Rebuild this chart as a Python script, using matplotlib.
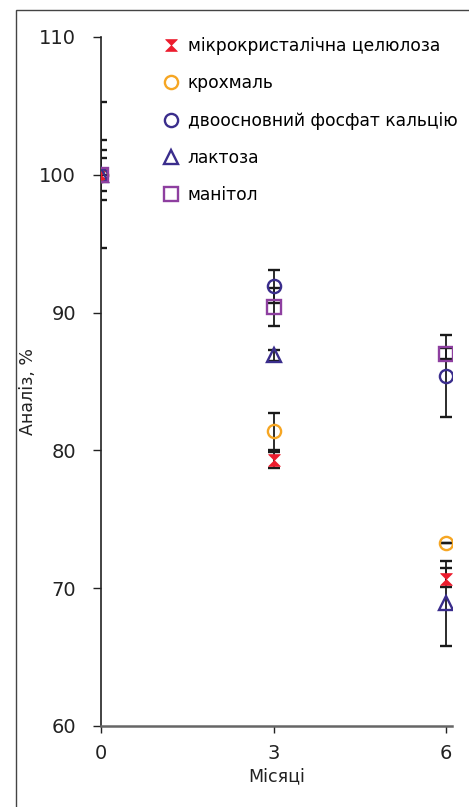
import numpy as np
import matplotlib
matplotlib.use('Agg')
import matplotlib.pyplot as plt
from matplotlib.patches import Rectangle
from matplotlib.path import Path

plt.rcParams['font.family'] = ['DejaVu Sans']

months = [0, 3, 6]
xTickLabels = ['0', '3', '6']
yTicks = [60, 70, 80, 90, 100, 110]

names = ['мікрокристалічна целюлоза', 'крохмаль', 'двоосновний фосфат кальцію',
         'лактоза', 'манітол']

mcc = [100.0, 79.3, 70.7]
mccLo = [1.2, 0.55, 0.6]
mccHi = [1.2, 0.55, 0.8]

starch = [100.0, 81.4, 73.3]
starchLo = [0.0, 1.35, 0.0]
starchHi = [2.5, 1.35, 0.0]

dcp = [100.0, 91.9, 85.4]
dcpLo = [1.8, 1.2, 3.0]
dcpHi = [1.8, 1.2, 3.0]

lactose = [100.0, 86.9, 68.9]
lactoseLo = [5.3, 0.4, 3.1]
lactoseHi = [5.3, 0.4, 3.1]

mannitol = [100.0, 90.4, 87.0]
mannitolLo = [0.3, 1.4, 0.4]
mannitolHi = [0.3, 1.4, 0.4]

# hourglass marker for the first series
hourglass = Path([(-1, 1), (1, 1), (-1, -1), (1, -1), (-1, 1)],
                 [Path.MOVETO, Path.LINETO, Path.LINETO, Path.LINETO, Path.CLOSEPOLY])

series = [
  (mcc, mccLo, mccHi, hourglass, '#ec1c2e', 8.5, True),
  (starch, starchLo, starchHi, 'o', '#f6a623', 9.5, False),
  (dcp, dcpLo, dcpHi, 'o', '#3a2d8c', 9.5, False),
  (lactose, lactoseLo, lactoseHi, '^', '#3a2d8c', 10, False),
  (mannitol, mannitolLo, mannitolHi, 's', '#8e3fa0', 9.5, False),
]

fig = plt.figure(figsize=(4.69, 8.07), dpi=100)
# frame around the picture (only left and top edges visible)
fig.patches.append(Rectangle((16/469, -0.1), 1.2, 1.1 - 10/807, transform=fig.transFigure,
                             fill=False, edgecolor='#444444', linewidth=1.0))

ax = fig.add_axes([101/469, 1 - 726/807, (452 - 101)/469, (726 - 37)/807])

for vals, lo, hi, mk, col, ms, filled in series:
  ax.errorbar(months, vals, yerr=[lo, hi], fmt='none', ecolor='#1a1a1a',
              elinewidth=1.3, capsize=4, capthick=1.7, zorder=2)

for (vals, lo, hi, mk, col, ms, filled), name in zip(series, names):
  if filled:
    ax.plot(months, vals, linestyle='none', marker=mk, markersize=ms,
            markerfacecolor=col, markeredgecolor=col, markeredgewidth=0.5,
            label=name, zorder=3)
  else:
    ax.plot(months, vals, linestyle='none', marker=mk, markersize=ms,
            markerfacecolor='none', markeredgecolor=col, markeredgewidth=1.7,
            label=name, zorder=3)

ax.set_xlim(0, 6.1)
ax.set_ylim(60, 110)
ax.set_xticks(months)
ax.set_xticklabels(xTickLabels)
ax.set_yticks(yTicks)

for s in ['top', 'right']:
  ax.spines[s].set_visible(False)
ax.spines['left'].set_color('#222222')
ax.spines['left'].set_linewidth(1.2)
ax.spines['bottom'].set_color('#666666')
ax.spines['bottom'].set_linewidth(1.8)

ax.tick_params(axis='y', direction='out', length=6, width=1.0, pad=12,
               labelsize=14, colors='#222222')
ax.tick_params(axis='x', direction='out', length=5, width=1.0, pad=8,
               labelsize=14, colors='#222222')

ax.set_xlabel('Місяці', fontsize=12.5, color='#222222', labelpad=3)
ax.set_ylabel('Аналіз, %', fontsize=12.5, color='#222222')
ax.yaxis.set_label_coords(-0.182, 0.485)

ax.legend(loc='upper left', bbox_to_anchor=(162/469, 1 - 37/807),
          bbox_transform=fig.transFigure, frameon=False, fontsize=12.3,
          handlelength=1.0, handletextpad=0.5, labelspacing=1.13,
          borderpad=0, borderaxespad=0, numpoints=1)

fig.savefig('out.png', dpi=100)
